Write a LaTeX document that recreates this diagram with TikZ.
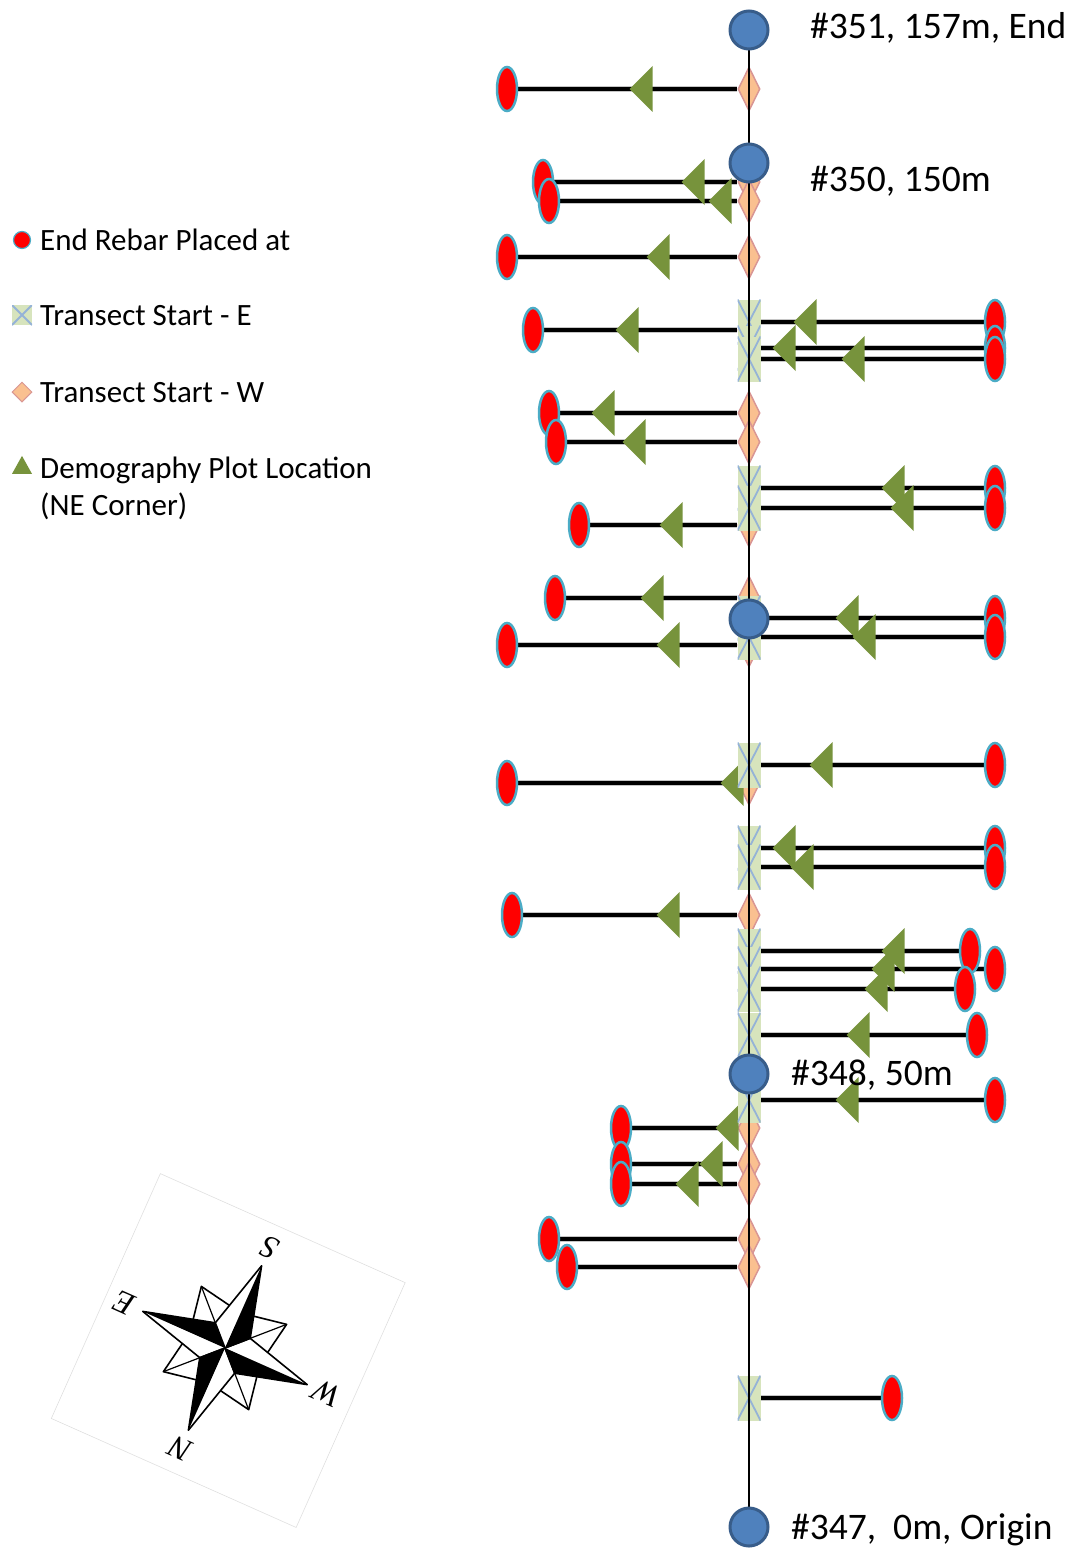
\documentclass[tikz,border=0pt]{standalone}
\usepackage{fontspec}
\setmainfont{Carlito}
\newfontfamily\roseFont{Liberation Serif}
\usetikzlibrary{shapes.geometric}
\definecolor{stBlue}{RGB}{79,129,189}
\definecolor{stBlueDark}{RGB}{56,93,138}
\definecolor{rbTeal}{RGB}{75,172,198}
\definecolor{wsPeach}{RGB}{250,192,144}
\definecolor{wsRose}{RGB}{217,150,148}
\definecolor{esMint}{RGB}{215,228,189}
\definecolor{esSky}{RGB}{149,179,215}
\definecolor{dmGreen}{RGB}{119,147,60}
\pgfdeclarelayer{bg}
\pgfdeclarelayer{fg}
\pgfsetlayers{bg,main,fg}

\begin{document}
\begin{tikzpicture}[x=1pt,y=-1pt,
    spot/.style={circle,draw=stBlueDark,line width=3pt,fill=stBlue,minimum size=38pt,inner sep=0pt},
    rebar/.style={ellipse,draw=rbTeal,line width=2.5pt,fill=red,minimum width=20pt,minimum height=44pt,inner sep=0pt},
    weststart/.style={diamond,draw=wsRose,line width=1.5pt,fill=wsPeach,minimum width=22pt,minimum height=44pt,inner sep=0pt},
    eaststart/.style={rectangle,fill=esMint,minimum width=23pt,minimum height=45pt,inner sep=0pt,
      path picture={\draw[esSky,line width=1.8pt]
        (path picture bounding box.north west) -- (path picture bounding box.south east)
        (path picture bounding box.south west) -- (path picture bounding box.north east);}},
    demo/.style={isosceles triangle,isosceles triangle stretches,shape border rotate=180,
      fill=dmGreen,minimum width=46pt,minimum height=23pt,inner sep=0pt},
    tline/.style={line width=3.8pt,preaction={draw=gray!45,line width=6.5pt}},
    spine/.style={line width=2pt},
    lbl/.style={anchor=base west,inner sep=0pt,font=\fontsize{37.5}{40}\selectfont},
    legtext/.style={anchor=base west,inner sep=0pt,font=\fontsize{31}{37}\selectfont},
    rose/.style={inner sep=0pt,transform shape,font=\fontsize{32}{32}\selectfont\roseFont\itshape}]
  \useasboundingbox (0,0) rectangle (1077,1549);

  \begin{pgfonlayer}{fg}
    \node[spot] (c351) at (749,30) {};
    \node[spot] (c350) at (749,163) {};
    \node[spot] (c349) at (749,619) {};
    \node[spot] (c348) at (749,1074) {};
    \node[spot] (c347) at (749,1527) {};
    \node[lbl] (t351) at (810,39) {\#351, 157m, End};
    \node[lbl] (t350) at (810,192) {\#350, 150m};
    \node[lbl] (t348) at (791,1085) {\#348, 50m};
    \node[lbl] (t347) at (791,1539) {\#347,\ \ 0m, Origin};
  \end{pgfonlayer}

  \foreach \y/\ex/\tx [count=\i] in {89/507/629, 182/543/681, 201/549/708, 257/507/646,
      330/533/615, 413/549/591, 442/556/622, 525/579/659, 598/555/640, 645/507/656,
      783/507/720, 915/512/656, 1128/621/715, 1164/621/699, 1184/621/675} {
    \node[weststart] (ws\i) at (749,\y) {};
    \node[rebar] (wr\i) at (\ex,\y) {};
    \node[demo,anchor=apex] (wd\i) at (\tx,\y) {};
    \begin{pgfonlayer}{bg}
      \draw[tline] (ws\i) -- (wr\i);
    \end{pgfonlayer}
  }
  \foreach \i/\y/\ex in {16/1239/549, 17/1267/567} {
    \node[weststart] (ws\i) at (749,\y) {};
    \node[rebar] (wr\i) at (\ex,\y) {};
    \begin{pgfonlayer}{bg}
      \draw[tline] (ws\i) -- (wr\i);
    \end{pgfonlayer}
  }

  \foreach \y/\ex/\tx [count=\i] in {322/995/793, 348/995/772, 359/995/841, 488/995/881,
      508/995/890, 618/995/835, 637/995/852, 765/995/809, 848/995/772, 867/995/790,
      951/970/881, 969/995/871, 989/965/864, 1035/977/846, 1100/995/835} {
    \node[eaststart] (es\i) at (749,\y) {};
    \node[rebar] (er\i) at (\ex,\y) {};
    \node[demo,anchor=apex] (ed\i) at (\tx,\y) {};
    \begin{pgfonlayer}{bg}
      \draw[tline] (es\i) -- (er\i);
    \end{pgfonlayer}
  }
  \node[eaststart] (es16) at (749,1398) {};
  \node[rebar] (er16) at (892,1398) {};
  \begin{pgfonlayer}{bg}
    \draw[tline] (es16) -- (er16);
  \end{pgfonlayer}

  \draw[spine] (c351) -- (c347);

  \node[rebar,minimum width=17pt,minimum height=17pt,line width=1.2pt] (kr) at (22,240) {};
  \node[legtext] (kt1) at (40,250) {End Rebar Placed at};
  \node[eaststart,minimum width=20pt,minimum height=20pt] (ke) at (22,315) {};
  \node[legtext] (kt2) at (40,325) {Transect Start - E};
  \node[weststart,minimum width=20pt,minimum height=20pt,line width=1pt] (kw) at (22,392) {};
  \node[legtext] (kt3) at (40,402) {Transect Start - W};
  \node[demo,shape border rotate=90,minimum width=20pt,minimum height=18pt] (kd) at (22,468) {};
  \node[legtext] (kt4) at (40,478) {Demography Plot Location};
  \node[legtext] (kt5) at (40,515) {(NE Corner)};

  \begin{scope}[shift={(225,1348)},y=1pt,rotate=156]
    \draw[gray!25,line width=0.6pt] (-138,-133) rectangle (130,135);
    \foreach \d in {45,135,225,315} {
      \filldraw[fill=white,line width=1.6pt,line join=round]
        (0,0) -- (\d+36:40) -- (\d:66) -- (\d-36:40) -- cycle;
      \draw[line width=1.2pt] (0,0) -- (\d:66);
    }
    \foreach \a in {0,90,180,270} {
      \filldraw[fill=white,line width=1.6pt,line join=round]
        (0,0) -- (\a+45:27) -- (\a:90) -- (\a-45:27) -- cycle;
      \fill (0,0) -- (\a:90) -- (\a-45:27) -- cycle;
    }
    \node[rose] (rN) at (0,110) {N};
    \node[rose] (rE) at (110,0) {E};
    \node[rose] (rS) at (0,-110) {S};
    \node[rose] (rW) at (-112,0) {W};
  \end{scope}
\end{tikzpicture}
\end{document}
